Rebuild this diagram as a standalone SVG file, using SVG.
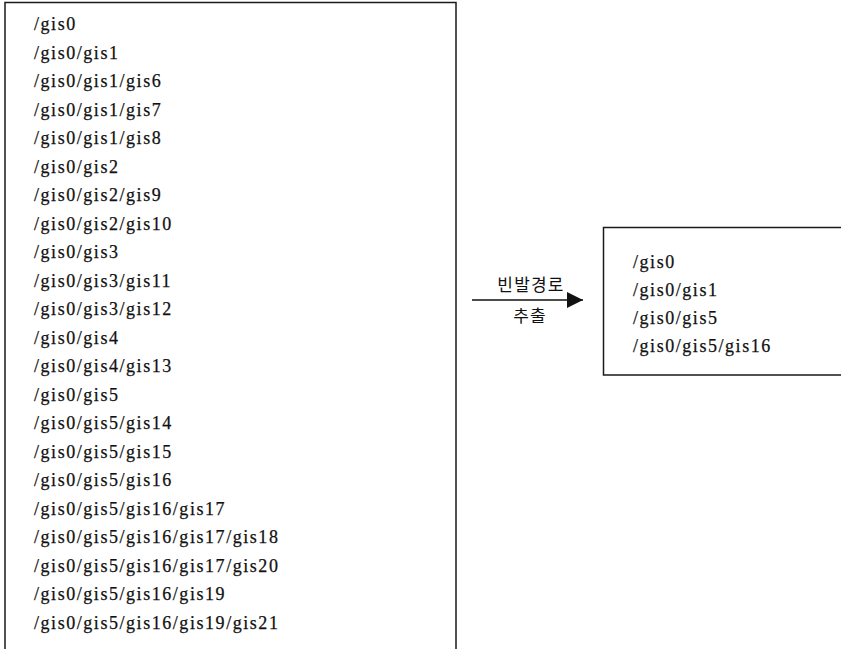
<svg xmlns="http://www.w3.org/2000/svg" width="841" height="649" viewBox="0 0 841 649">
  <style>
    .frame { fill: none; stroke: #1a1a1a; stroke-width: 1.5; }
    .path { font-family: "Liberation Serif", "Times New Roman", serif; font-size: 18px; letter-spacing: 1.55px; fill: #111; stroke: #111; stroke-width: 0.25; }
    .label { font-family: "Noto Sans CJK KR", "Noto Sans", sans-serif; font-size: 17px; letter-spacing: 1.2px; fill: #111; text-anchor: middle; }
    .edge { stroke: #111; stroke-width: 1.6; fill: none; }
  </style>
  <defs>
    <marker id="head" viewBox="0 0 16 16" refX="16" refY="8" markerWidth="16" markerHeight="16" markerUnits="userSpaceOnUse" orient="auto">
      <path d="M0,0 L16,8 L0,16 Z" fill="#111"/>
    </marker>
  </defs>

  <rect width="841" height="649" fill="#fff"/>

  <!-- full path list (box runs off the bottom edge) -->
  <g id="all-paths">
    <path class="frame" d="M5,660 V2.5 H456 V660"/>
    <text class="path" x="34" y="30">/gis0</text>
    <text class="path" x="34" y="58.5">/gis0/gis1</text>
    <text class="path" x="34" y="87">/gis0/gis1/gis6</text>
    <text class="path" x="34" y="115.5">/gis0/gis1/gis7</text>
    <text class="path" x="34" y="144">/gis0/gis1/gis8</text>
    <text class="path" x="34" y="172.5">/gis0/gis2</text>
    <text class="path" x="34" y="201">/gis0/gis2/gis9</text>
    <text class="path" x="34" y="229.5">/gis0/gis2/gis10</text>
    <text class="path" x="34" y="258">/gis0/gis3</text>
    <text class="path" x="34" y="286.5">/gis0/gis3/gis11</text>
    <text class="path" x="34" y="315">/gis0/gis3/gis12</text>
    <text class="path" x="34" y="343.5">/gis0/gis4</text>
    <text class="path" x="34" y="372">/gis0/gis4/gis13</text>
    <text class="path" x="34" y="400.5">/gis0/gis5</text>
    <text class="path" x="34" y="429">/gis0/gis5/gis14</text>
    <text class="path" x="34" y="457.5">/gis0/gis5/gis15</text>
    <text class="path" x="34" y="486">/gis0/gis5/gis16</text>
    <text class="path" x="34" y="514.5">/gis0/gis5/gis16/gis17</text>
    <text class="path" x="34" y="543">/gis0/gis5/gis16/gis17/gis18</text>
    <text class="path" x="34" y="571.5">/gis0/gis5/gis16/gis17/gis20</text>
    <text class="path" x="34" y="600">/gis0/gis5/gis16/gis19</text>
    <text class="path" x="34" y="628.5">/gis0/gis5/gis16/gis19/gis21</text>
  </g>

  <!-- extracted frequent paths (box runs off the right edge) -->
  <g id="frequent-paths">
    <path class="frame" d="M850,227.5 H603.5 V375 H850"/>
    <text class="path" x="633" y="268">/gis0</text>
    <text class="path" x="633" y="296">/gis0/gis1</text>
    <text class="path" x="633" y="324">/gis0/gis5</text>
    <text class="path" x="633" y="352">/gis0/gis5/gis16</text>
  </g>

  <g id="connectors">
    <line class="edge" x1="472" y1="300" x2="583" y2="300" marker-end="url(#head)"/>
    <text class="label" x="531" y="291">빈발경로</text>
    <text class="label" x="530" y="322">추출</text>
  </g>
</svg>
